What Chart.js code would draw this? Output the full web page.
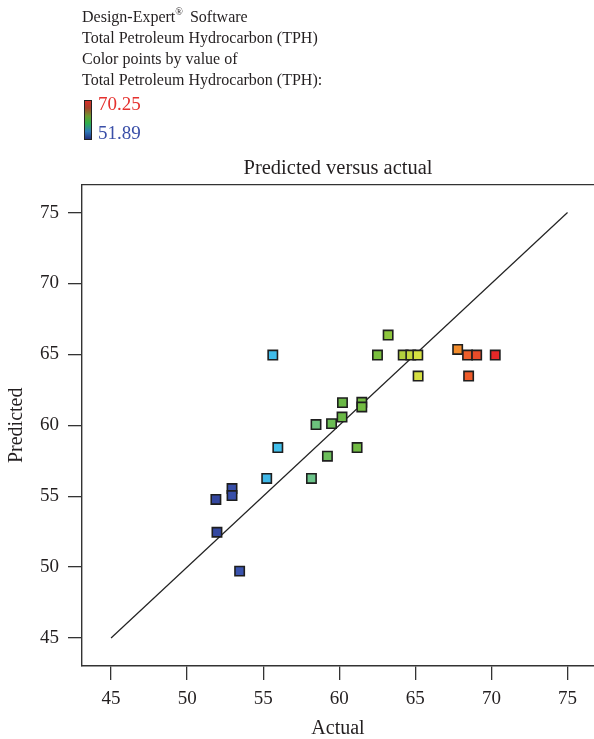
<!DOCTYPE html>
<html>
<head>
<meta charset="utf-8">
<script src="https://cdn.jsdelivr.net/npm/chart.js@4/dist/chart.umd.min.js"></script>
<style>
  body { margin: 0; background: #fff; }
  #quadro { position: relative; width: 594px; height: 739px; font-family: 'Liberation Serif', serif; color: #231f20; overflow: hidden; }
  #grafico { position: absolute; left: 0; top: 0; }
  #cabecalho { position: absolute; left: 82px; top: 6px; font-size: 16px; line-height: 21px; white-space: nowrap; }
  #cabecalho sup { font-size: 10px; line-height: 0; vertical-align: 7px; margin-right: 3px; }
  #barra { position: absolute; left: 84px; top: 100px; width: 6px; height: 38px; border: 1.5px solid #222;
           background: linear-gradient(to bottom, #d8302a 0%, #a8402a 18%, #6a9a30 40%, #2eb04a 58%, #2f7ab8 80%, #22307e 100%); }
  .valor { position: absolute; left: 98px; font-size: 19px; line-height: 19px; }
  #vmax { top: 94px; color: #e5312e; }
  #vmin { top: 123px; color: #3a4fa8; }
</style>
</head>
<body>
<div id="quadro">
  <canvas id="grafico" width="594" height="739"></canvas>
  <div id="cabecalho">
    <div>Design-Expert<sup>®</sup> Software</div>
    <div>Total Petroleum Hydrocarbon (TPH)</div>
    <div>Color points by value of</div>
    <div>Total Petroleum Hydrocarbon (TPH):</div>
  </div>
  <div id="barra"></div>
  <div class="valor" id="vmax"></div>
  <div class="valor" id="vmin"></div>
</div>
<script>
const actual    = [51.96, 51.89, 52.95, 52.95, 53.45, 55.23, 55.63, 55.96, 58.17, 58.47, 59.22, 59.49, 60.18, 60.21,
                   61.17, 61.48, 61.48, 62.51, 63.21, 64.20, 64.70, 65.16, 65.18, 67.78, 68.43, 68.50, 69.03, 70.25];
const predicted = [52.46, 54.77, 55.54, 55.05, 49.72, 56.25, 64.95, 58.43, 56.25, 60.05, 57.82, 60.12, 60.58, 61.60,
                   58.43, 61.62, 61.29, 64.95, 66.36, 64.95, 64.95, 64.95, 63.47, 65.35, 64.95, 63.47, 64.95, 64.95];
const linhaIdeal = [45, 75];
const ticksX = [45, 50, 55, 60, 65, 70, 75];
const ticksY = [45, 50, 55, 60, 65, 70, 75];

const fonte = "'Liberation Serif', serif";
const corTexto = '#231f20';
const vMin = Math.min(...actual);
const vMax = Math.max(...actual);
document.getElementById('vmax').innerText = vMax.toFixed(2);
document.getElementById('vmin').innerText = vMin.toFixed(2);

// escala de cores do Design-Expert (azul -> ciano -> verde -> amarelo -> vermelho)
const paradas = [
  [0.00, '#34479f'], [0.10, '#3b55b0'], [0.16, '#3fb4e6'], [0.25, '#42c4ee'], [0.34, '#6cc48c'],
  [0.40, '#6cbf5a'], [0.45, '#6ab846'], [0.58, '#7abf3e'], [0.63, '#96c83c'], [0.68, '#b8d23e'],
  [0.73, '#dae242'], [0.80, '#f0b030'], [0.87, '#f28a2c'], [0.90, '#ee5e2a'], [1.00, '#e62828']
];
function hexParaRgb(h) { return [1, 3, 5].map(i => parseInt(h.slice(i, i + 2), 16)); }
function corPorValor(v) {
  const t = (v - vMin) / (vMax - vMin);
  for (let i = 1; i < paradas.length; i++) {
    const [t1, c1] = paradas[i];
    const [t0, c0] = paradas[i - 1];
    if (t <= t1) {
      const f = (t - t0) / (t1 - t0);
      const a = hexParaRgb(c0), b = hexParaRgb(c1);
      return `rgb(${a.map((x, k) => Math.round(x + (b[k] - x) * f)).join(',')})`;
    }
  }
  return paradas[paradas.length - 1][1];
}

const pontos = actual.map((a, i) => ({ x: a, y: predicted[i] }));

// borda de cima da caixa do gráfico
const bordaTopo = {
  id: 'bordaTopo',
  afterDraw(chart) {
    const { ctx, chartArea: a } = chart;
    ctx.save();
    ctx.strokeStyle = '#333';
    ctx.lineWidth = 1.4;
    ctx.beginPath();
    ctx.moveTo(a.left, a.top);
    ctx.lineTo(a.right, a.top);
    ctx.stroke();
    ctx.restore();
  }
};

const eixoComum = (ticks) => ({
  type: 'linear',
  afterBuildTicks: s => { s.ticks = ticks.map(v => ({ value: v })); },
  grid: { drawOnChartArea: false, drawTicks: true, tickLength: 14, color: '#333', lineWidth: 1.3 },
  border: { display: true, color: '#333', width: 1.4 }
});
const fonteTicks = { color: corTexto, font: { family: fonte, size: 19 }, maxRotation: 0, autoSkip: false };

new Chart(document.getElementById('grafico').getContext('2d'), {
  type: 'scatter',
  data: {
    datasets: [
      {
        label: 'TPH',
        data: pontos,
        pointStyle: 'rect',
        pointRadius: 6.6,
        pointBackgroundColor: actual.map(corPorValor),
        pointBorderColor: '#1e1e1e',
        pointBorderWidth: 1.6
      },
      {
        type: 'line',
        label: 'ideal',
        data: linhaIdeal.map(v => ({ x: v, y: v })),
        borderColor: '#222',
        borderWidth: 1.2,
        pointRadius: 0,
        showLine: true
      }
    ]
  },
  options: {
    responsive: false,
    animation: false,
    layout: { autoPadding: false, padding: { top: 150, left: 0, right: 0, bottom: 0 } },
    plugins: {
      legend: { display: false },
      tooltip: { enabled: false },
      title: {
        display: true,
        text: 'Predicted versus actual',
        fullSize: false,
        color: corTexto,
        font: { family: fonte, size: 20.5, weight: 'normal' },
        padding: { top: 6, bottom: 4 }
      }
    },
    scales: {
      x: {
        ...eixoComum(ticksX),
        min: 43.09, max: 76.74,
        // a caixa vai até a borda direita da figura
        afterFit: s => { s.height = 73; s.paddingLeft = 0; s.paddingRight = 0; },
        ticks: { ...fonteTicks, padding: 8 },
        title: { display: true, text: 'Actual', color: corTexto, font: { family: fonte, size: 20, lineHeight: 1 }, padding: { top: 0, bottom: 0 } }
      },
      y: {
        ...eixoComum(ticksY),
        min: 43.03, max: 76.97,
        afterFit: s => { s.width = 82; s.paddingTop = 0; s.paddingBottom = 0; },
        ticks: { ...fonteTicks, padding: 9 },
        title: { display: true, text: 'Predicted', color: corTexto, font: { family: fonte, size: 20, lineHeight: 1 }, padding: { top: 7, bottom: 0 } }
      }
    }
  },
  plugins: [bordaTopo]
});
</script>
</body>
</html>
